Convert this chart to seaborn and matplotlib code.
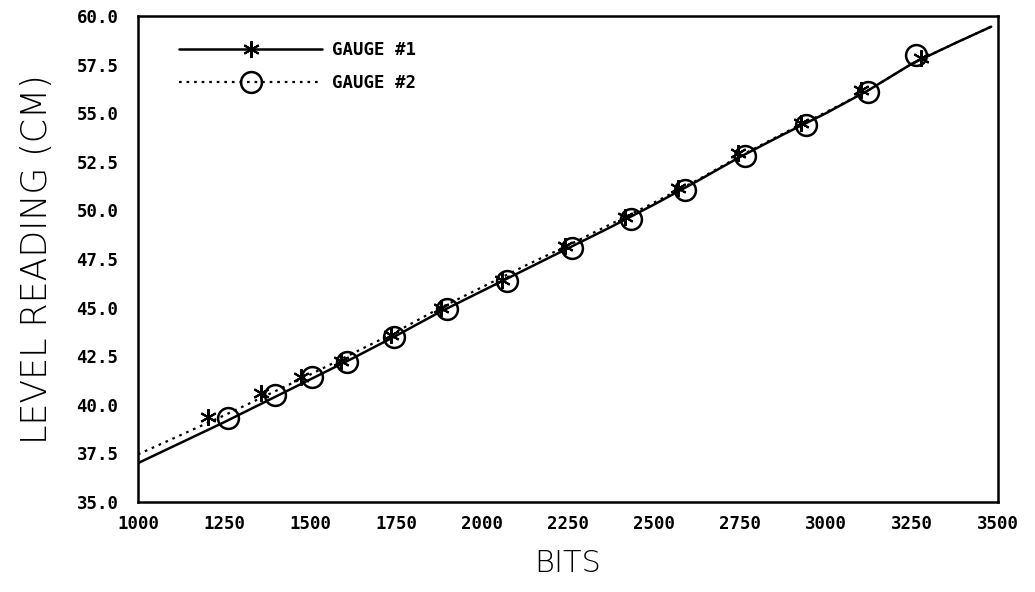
import matplotlib
matplotlib.use("Agg")
import matplotlib.pyplot as plt
from matplotlib.lines import Line2D
import seaborn as sns
import pandas as pd

# Calibration markers: gauge readings (bits) against level (cm)
g1_bits = [1203, 1359, 1475, 1591, 1736, 1881, 2058, 2241, 2417, 2571, 2745, 2928, 3101, 3275]
g1_level = [39.37, 40.61, 41.43, 42.25, 43.59, 44.98, 46.42, 48.17, 49.66, 51.15, 52.95, 54.50, 56.19, 57.84]

g2_bits = [1261, 1397, 1507, 1609, 1745, 1899, 2072, 2261, 2432, 2591, 2765, 2942, 3122, 3261]
g2_level = [39.32, 40.50, 41.43, 42.20, 43.49, 44.93, 46.37, 48.07, 49.56, 51.05, 52.80, 54.39, 56.09, 57.99]

# Fitted calibration curves
curve_bits = [1000, 1125, 1250, 1375, 1500, 1625, 1750, 1875, 2000, 2125, 2250,
              2375, 2500, 2625, 2750, 2875, 3000, 3125, 3250, 3375, 3480]
curve1_level = [37.00, 38.05, 39.10, 40.20, 41.30, 42.40, 43.55, 44.75, 45.85, 46.95, 48.05,
                49.15, 50.30, 51.50, 52.75, 53.90, 55.00, 56.20, 57.55, 58.60, 59.45]
curve2_level = [37.45, 38.45, 39.45, 40.50, 41.55, 42.65, 43.75, 44.95, 46.05, 47.15, 48.20,
                49.30, 50.40, 51.55, 52.80, 53.95, 55.05, 56.20, 57.55, 58.60, 59.45]

x_ticks = [1000, 1250, 1500, 1750, 2000, 2250, 2500, 2750, 3000, 3250, 3500]
y_ticks = [35.0, 37.5, 40.0, 42.5, 45.0, 47.5, 50.0, 52.5, 55.0, 57.5, 60.0]
labels = ["GAUGE #1", "GAUGE #2"]

sns.set_theme(style="white")
plt.rcParams["font.family"] = ["DejaVu Sans Mono", "DejaVu Sans"]
plt.rcParams["text.color"] = "black"

fig = plt.figure(figsize=(10.35, 5.92), dpi=100)
ax = fig.add_axes([0.1333, 0.152, 0.8310, 0.821])

curves = pd.DataFrame({"bits": curve_bits, "g1": curve1_level, "g2": curve2_level})
sns.lineplot(data=curves, x="bits", y="g1", ax=ax, color="black", lw=1.8, ls="-")
sns.lineplot(data=curves, x="bits", y="g2", ax=ax, color="black", lw=1.6, ls=(0, (1.2, 2.2)))

asterisk = (6, 2, 0)
ax.plot(g1_bits, g1_level, ls="none", marker=asterisk, ms=12, mew=1.5, color="black")
ax.plot(g2_bits, g2_level, ls="none", marker="o", ms=15, mew=1.8,
        mfc="none", mec="black")

ax.set_xlim(1000, 3500)
ax.set_ylim(35.0, 60.0)
ax.set_xticks(x_ticks)
ax.set_yticks(y_ticks)
ax.set_xticklabels([str(v) for v in x_ticks])
ax.set_yticklabels([f"{v:.1f}" for v in y_ticks])
ax.tick_params(axis="both", direction="in", length=9, width=1.3, colors="black",
               labelsize=12.5)
ax.tick_params(axis="y", pad=14)
ax.tick_params(axis="x", pad=9)
for lab in ax.get_xticklabels() + ax.get_yticklabels():
    lab.set_fontweight("bold")

for s in ax.spines.values():
    s.set_color("black")
    s.set_linewidth(1.8)

ax.set_xlabel("BITS", fontsize=22, family="DejaVu Sans", fontweight="light",
              color="black", labelpad=12)
ax.set_ylabel("LEVEL READING (CM)", fontsize=25, family="DejaVu Sans", fontweight="light",
              color="black", labelpad=16)

handles = [
    Line2D([], [], color="black", lw=1.8, ls="-", marker=asterisk, ms=12, mew=1.5),
    Line2D([], [], color="black", lw=1.6, ls=(0, (1.2, 2.2)), marker="o", ms=15, mew=1.8,
           mfc="none", mec="black"),
]
leg = ax.legend(handles, labels, loc="upper left", bbox_to_anchor=(0.03, 0.98),
                frameon=False, handlelength=8.2, handletextpad=0.6, labelspacing=0.85,
                labelcolor="black",
                prop={"family": "DejaVu Sans Mono", "weight": "bold", "size": 12.5})

fig.savefig("out.png", dpi=100, facecolor="white")
